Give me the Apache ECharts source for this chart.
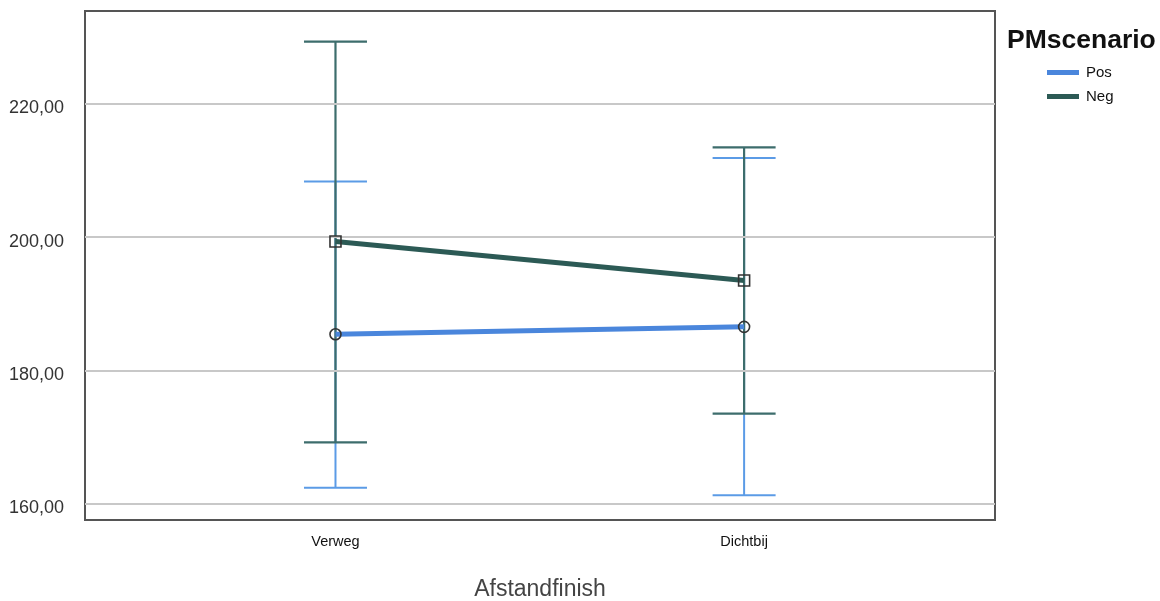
<!DOCTYPE html>
<html>
<head>
<meta charset="utf-8">
<script src="https://cdn.jsdelivr.net/npm/echarts@6/dist/echarts.min.js"></script>
<style>html,body{margin:0;padding:0;background:#fff}#c{width:1160px;height:601px}</style>
</head>
<body>
<div id="c"></div>
<script>
const categories = ['Verweg', 'Dichtbij'];
const yTicks = [160, 180, 200, 220];
const posMean = [185.45, 186.55];
const negMean = [199.35, 193.5];
const posLow = [162.45, 161.3];
const posHigh = [208.35, 211.85];
const negLow = [169.25, 173.55];
const negHigh = [229.3, 213.45];

const FONT = 'Liberation Sans, Arial, Helvetica, sans-serif';
const POS_LINE = '#4a86dc';
const NEG_LINE = '#2c5a55';
const POS_ERR = '#5b9be6';
const NEG_ERR = '#3d6d6c';

function errRender(color, width) {
  return function (params, api) {
    const i = api.value(0);
    const lo = api.coord([i, api.value(1)]);
    const hi = api.coord([i, api.value(2)]);
    const hw = 31.5;
    const st = { stroke: color, lineWidth: width };
    return {
      type: 'group',
      children: [
        { type: 'line', shape: { x1: lo[0], y1: lo[1], x2: hi[0], y2: hi[1] }, style: st },
        { type: 'line', shape: { x1: lo[0] - hw, y1: lo[1], x2: lo[0] + hw, y2: lo[1] }, style: st },
        { type: 'line', shape: { x1: hi[0] - hw, y1: hi[1], x2: hi[0] + hw, y2: hi[1] }, style: st }
      ]
    };
  };
}

const chart = echarts.init(document.getElementById('c'), null, { renderer: 'canvas' });
chart.setOption({
  animation: false,
  backgroundColor: '#fff',
  textStyle: { fontFamily: FONT },
  grid: {
    left: 85, right: 165, top: 11, bottom: 81,
    outerBoundsMode: 'none', containLabel: false,
    show: true, borderColor: '#555', borderWidth: 2, backgroundColor: 'transparent'
  },
  graphic: [
    {
      type: 'text', left: 1007, top: 27, z: 100,
      style: { text: 'PMscenario', fontFamily: FONT, fontSize: 26.5, fontWeight: 'bold', fill: '#111' }
    }
  ],
  legend: {
    orient: 'vertical',
    left: 1047, top: 65, padding: 0,
    itemWidth: 32, itemHeight: 5, itemGap: 9,
    textStyle: { fontFamily: FONT, fontSize: 15, color: '#111', padding: [0, 0, 0, 2] },
    data: [
      { name: 'Pos', icon: 'rect', itemStyle: { color: POS_LINE, borderWidth: 0 } },
      { name: 'Neg', icon: 'rect', itemStyle: { color: NEG_LINE, borderWidth: 0 } }
    ]
  },
  xAxis: {
    type: 'value',
    min: -0.613, max: 1.614,
    name: 'Afstandfinish',
    nameLocation: 'middle',
    nameGap: 58,
    nameTextStyle: { fontFamily: FONT, fontSize: 23, color: '#444' },
    axisLine: { show: false },
    axisTick: { show: false },
    splitLine: { show: false },
    axisLabel: {
      customValues: [0, 1],
      formatter: function (v) { return categories[Math.round(v)]; },
      margin: 14,
      fontFamily: FONT, fontSize: 14.5, color: '#111'
    }
  },
  yAxis: {
    type: 'value',
    min: 157.6, max: 233.9,
    axisLine: { show: false },
    splitLine: { show: false },
    axisTick: {
      show: true, customValues: yTicks, length: 11,
      lineStyle: { color: '#c8c8c8', width: 2 }
    },
    axisLabel: {
      customValues: yTicks,
      formatter: function (v) { return v.toFixed(2).replace('.', ','); },
      margin: 21,
      verticalAlign: 'top',
      lineHeight: 9,
      fontFamily: FONT, fontSize: 18, color: '#333'
    }
  },
  series: [
    {
      type: 'line', name: 'grid', data: [], silent: true, z: 1,
      markLine: {
        silent: true, symbol: 'none', animation: false,
        label: { show: false },
        lineStyle: { color: '#c8c8c8', width: 2, type: 'solid' },
        data: yTicks.map(function (v) { return { yAxis: v }; })
      }
    },
    {
      type: 'custom', name: 'PosCI', z: 2,
      renderItem: errRender(POS_ERR, 2),
      data: categories.map(function (c, i) { return [i, posLow[i], posHigh[i]]; })
    },
    {
      type: 'custom', name: 'NegCI', z: 3,
      renderItem: errRender(NEG_ERR, 2.2),
      data: categories.map(function (c, i) { return [i, negLow[i], negHigh[i]]; })
    },
    {
      type: 'line', name: 'Pos', z: 4,
      data: categories.map(function (c, i) { return [i, posMean[i]]; }),
      lineStyle: { color: POS_LINE, width: 5 },
      symbol: 'circle', symbolSize: 11,
      itemStyle: { color: 'rgba(255,255,255,0)', borderColor: '#333', borderWidth: 1.6 }
    },
    {
      type: 'line', name: 'Neg', z: 5,
      data: categories.map(function (c, i) { return [i, negMean[i]]; }),
      lineStyle: { color: NEG_LINE, width: 5 },
      symbol: 'rect', symbolSize: 11,
      itemStyle: { color: 'rgba(255,255,255,0)', borderColor: '#333', borderWidth: 1.6 }
    }
  ]
});
</script>
</body>
</html>
